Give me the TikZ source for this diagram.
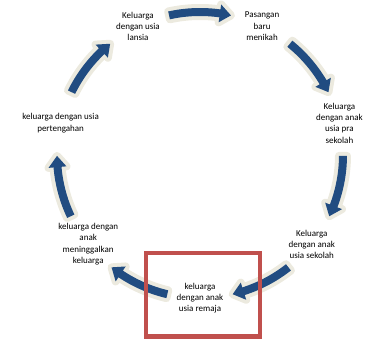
\documentclass[tikz,border=0pt]{standalone}
\usepackage{fontspec}
\setmainfont{Carlito}
\usetikzlibrary{calc}
\newcommand{\Ring}{143}
\newcommand{\Body}{4}
\newcommand{\Head}{9}
\newcommand{\HeadDeg}{4.5}
\newcommand{\Span}{12.5}
\definecolor{arrowblue}{HTML}{214C81}
\definecolor{halo}{HTML}{ECEADF}
\definecolor{boxred}{HTML}{C0504D}

\begin{document}
\begin{tikzpicture}[x=1pt,y=1pt, line join=round,
  stage/.style={align=center, font=\fontsize{9}{11.2}\selectfont, inner sep=1pt}]

  \useasboundingbox (0,0) rectangle (366,340);
  \coordinate (c) at (200,185);

  \begin{scope}[shift={(c)}]
  % ---- curved block arrows, one between each pair of stages -------------
  \foreach \m in {90,38.57,-12.86,-64.29,-115.71,-167.14,141.43} {
    \pgfmathsetmacro\a{\m+\Span}
    \pgfmathsetmacro\b{\m-\Span}
    \pgfmathsetmacro\h{\b+\HeadDeg}
    \fill[arrowblue, preaction={draw=halo, line width=8pt}]
      (\a:{\Ring+\Body}) arc[start angle=\a, end angle=\h, radius=\Ring+\Body]
      -- (\h:{\Ring+\Head}) -- (\b:\Ring) -- (\h:{\Ring-\Head})
      -- (\h:{\Ring-\Body}) arc[start angle=\h, end angle=\a, radius=\Ring-\Body]
      -- cycle;
  }

  % ---- stages, clockwise from the top ------------------------------------
  \node[stage] (pasangan)     at (64.29:\Ring)   {Pasangan\\baru\\menikah};
  \node[stage] (prasekolah)   at (12.86:\Ring)   {Keluarga\\dengan anak\\usia pra\\sekolah};
  \node[stage] (sekolah)      at (-38.57:\Ring)  {Keluarga\\dengan anak\\usia sekolah};
  \node[stage] (remaja)       at (-90:\Ring)     {keluarga\\dengan anak\\usia remaja};
  \node[stage] (meninggalkan) at (-141.43:\Ring) {keluarga dengan\\anak\\meninggalkan\\keluarga};
  \node[stage] (pertengahan)  at (167.14:\Ring)  {keluarga dengan usia\\pertengahan};
  \node[stage] (lansia)       at (115.71:\Ring)  {Keluarga\\dengan usia\\lansia};
  \end{scope}

  % ---- highlight round the current stage ---------------------------------
  \draw[boxred, line width=4.5pt, line join=miter]
    ($(remaja)+(-54,-38.5)$) rectangle ($(remaja)+(60,45)$);

\end{tikzpicture}
\end{document}
